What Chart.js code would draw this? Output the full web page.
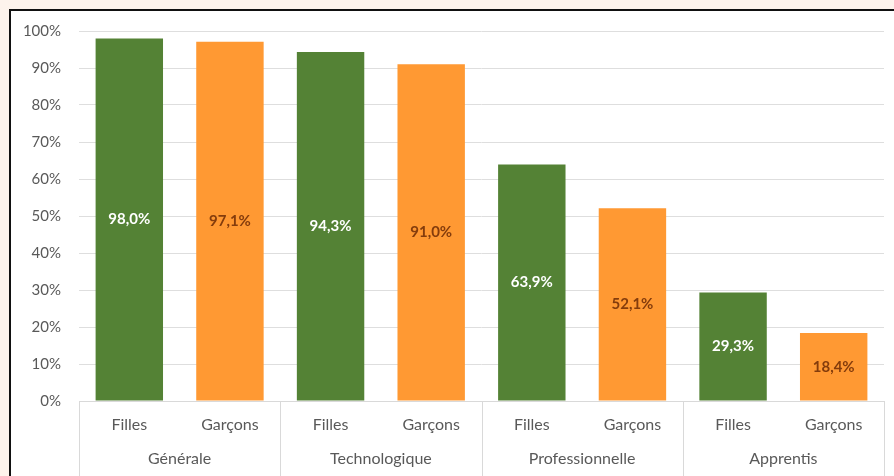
<!DOCTYPE html>
<html>
<head>
<meta charset="utf-8">
<script src="https://cdn.jsdelivr.net/npm/chart.js@4/dist/chart.umd.min.js"></script>
<style>
  html, body { margin: 0; padding: 0; background: #fdf3ec; }
  #frame { position: absolute; left: 9px; top: 9px; width: 900px; height: 480px; background: #fff; border-left: 2px solid #111; border-top: 2px solid #111; }
  #wrap { position: absolute; left: 0; top: 0; width: 894px; height: 476px; }
</style>
</head>
<body>
<div id="frame"></div>
<div id="wrap"><canvas id="chart"></canvas></div>
<script>
const sexes = ['Filles', 'Garçons', 'Filles', 'Garçons', 'Filles', 'Garçons', 'Filles', 'Garçons'];
const groups = ['Générale', 'Technologique', 'Professionnelle', 'Apprentis'];
const values = [98.0, 97.1, 94.3, 91.0, 63.9, 52.1, 29.3, 18.4];
const yTicks = [0, 10, 20, 30, 40, 50, 60, 70, 80, 90, 100];

const FONT = "Lato, Carlito, 'Open Sans', sans-serif";
const green = '#548235';
const orange = '#ff9933';

const groupAxis = {
  id: 'groupAxis',
  afterDraw(chart) {
    const { ctx, chartArea, scales } = chart;
    const x = scales.x;
    const half = (x.getPixelForValue(1) - x.getPixelForValue(0)) / 2;
    ctx.save();
    ctx.strokeStyle = '#d9d9d9';
    ctx.lineWidth = 1;
    for (let g = 0; g <= groups.length; g++) {
      const px = Math.round(g < groups.length ? x.getPixelForValue(g * 2) - half : x.getPixelForValue(g * 2 - 1) + half) + 0.5;
      ctx.beginPath();
      ctx.moveTo(px, chartArea.bottom);
      ctx.lineTo(px, chart.height);
      ctx.stroke();
    }
    ctx.fillStyle = '#595959';
    ctx.font = '16px ' + FONT;
    ctx.textAlign = 'center';
    ctx.textBaseline = 'middle';
    groups.forEach((g, i) => {
      const cx = (x.getPixelForValue(i * 2) + x.getPixelForValue(i * 2 + 1)) / 2;
      ctx.fillText(g, cx, chartArea.bottom + 58);
    });
    ctx.restore();
  }
};

const barLabels = {
  id: 'barLabels',
  afterDatasetsDraw(chart) {
    const { ctx } = chart;
    const meta = chart.getDatasetMeta(0);
    ctx.save();
    ctx.font = 'bold 15px ' + FONT;
    ctx.textAlign = 'center';
    ctx.textBaseline = 'middle';
    meta.data.forEach((bar, i) => {
      ctx.fillStyle = i % 2 === 0 ? '#ffffff' : '#843c0c';
      const txt = values[i].toFixed(1).replace('.', ',') + '%';
      ctx.fillText(txt, bar.x, (bar.y + bar.base) / 2);
    });
    ctx.restore();
  }
};

new Chart(document.getElementById('chart'), {
  type: 'bar',
  data: {
    labels: sexes,
    datasets: [{
      data: values,
      backgroundColor: values.map((v, i) => i % 2 === 0 ? green : orange),
      categoryPercentage: 1,
      barPercentage: 0.67
    }]
  },
  options: {
    responsive: true,
    maintainAspectRatio: false,
    animation: false,
    layout: { padding: { top: 31, right: 10, left: 0, bottom: 0 } },
    plugins: { legend: { display: false }, tooltip: { enabled: false } },
    scales: {
      x: {
        grid: { display: false },
        border: { color: '#d9d9d9' },
        ticks: { color: '#595959', font: { family: FONT, size: 16 }, padding: 6, maxRotation: 0 },
        afterFit: (s) => { s.height = 75; }
      },
      y: {
        min: 0,
        max: 100,
        afterBuildTicks: (s) => { s.ticks = yTicks.map((v) => ({ value: v })); },
        grid: { color: '#dedede', drawTicks: false },
        border: { display: false },
        ticks: { color: '#595959', font: { family: FONT, size: 15 }, padding: 18, callback: (v) => v + '%' },
        afterFit: (s) => { s.width = 79; }
      }
    }
  },
  plugins: [groupAxis, barLabels]
});
</script>
</body>
</html>
